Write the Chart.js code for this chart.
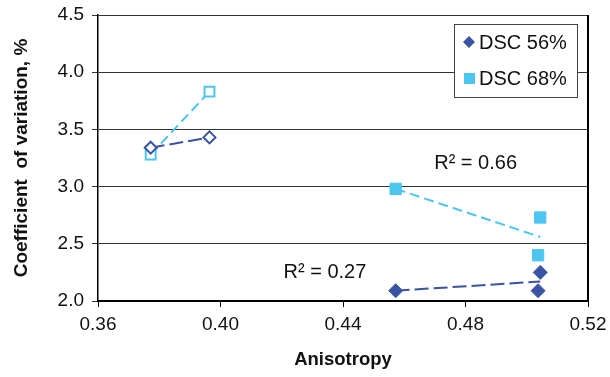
<!DOCTYPE html>
<html>
<head>
<meta charset="utf-8">
<script src="https://cdn.jsdelivr.net/npm/chart.js@4/dist/chart.umd.min.js"></script>
<style>
  html, body { margin: 0; padding: 0; background: #fff; }
  #wrap { width: 610px; height: 377px; }
</style>
</head>
<body>
<div id="wrap"><canvas id="myChart" width="610" height="377"></canvas></div>
<script>
// DSC 56% / 68% samples, filled markers
const aniso56 = [0.4572, 0.5044, 0.5037];
const cv56 = [2.09, 2.25, 2.09];
const aniso68 = [0.4572, 0.5044, 0.5037];
const cv68 = [2.98, 2.73, 2.40];

// open markers (low anisotropy pair)
const anisoOpen = [0.3772, 0.3964];
const cvOpen56 = [3.34, 3.43];
const cvOpen68 = [3.28, 3.83];

// trend line end points
const trendX = [0.4572, 0.5044];
const trend56 = [2.09, 2.17];
const trend68 = [2.98, 2.56];

// R² notes: text, x, y
const r2Text = ['R\u00b2 = 0.66', 'R\u00b2 = 0.27'];
const r2X = [0.4833, 0.4341];
const r2Y = [3.20, 2.25];

const xTicks = [0.36, 0.40, 0.44, 0.48, 0.52];
const yTicks = [2.0, 2.5, 3.0, 3.5, 4.0, 4.5];

const dark = '#3a53a4';
const light = '#4cc5f1';
const FONT = 'Arial, "Liberation Sans", sans-serif';

const pts = function (xs, ys) {
  return xs.map(function (x, i) { return { x: x, y: ys[i] }; });
};

// legend box in the top right corner of the plot
const boxLegend = {
  id: 'boxLegend',
  afterDraw: function (chart) {
    const c = chart.ctx, a = chart.chartArea;
    const w = 123, h = 73;
    const x0 = a.right - 11 - w, y0 = a.top + 9;
    c.save();
    c.fillStyle = '#fff';
    c.fillRect(x0, y0, w, h);
    c.strokeStyle = '#444';
    c.lineWidth = 1;
    c.strokeRect(x0 + 0.5, y0 + 0.5, w, h);
    c.font = '20px ' + FONT;
    c.textBaseline = 'middle';
    const items = [chart.data.datasets[0], chart.data.datasets[1]];
    items.forEach(function (ds, i) {
      const cy = y0 + 18 + i * 36;
      const mx = x0 + 15;
      c.fillStyle = ds.backgroundColor;
      c.beginPath();
      if (ds.pointStyle === 'rectRot') {
        c.moveTo(mx, cy - 6); c.lineTo(mx + 6, cy); c.lineTo(mx, cy + 6); c.lineTo(mx - 6, cy);
        c.closePath();
      } else {
        c.rect(mx - 5, cy - 5, 11, 11);
      }
      c.fill();
      c.fillStyle = '#111';
      c.fillText(ds.label, x0 + 25, cy + 1);
    });
    c.restore();
  }
};

// R² notes and the right-hand border
const notes = {
  id: 'notes',
  afterDatasetsDraw: function (chart) {
    const c = chart.ctx, a = chart.chartArea;
    const sx = chart.scales.x, sy = chart.scales.y;
    c.save();
    c.font = '20px ' + FONT;
    c.fillStyle = '#111';
    c.textAlign = 'center';
    c.textBaseline = 'middle';
    r2Text.forEach(function (t, i) {
      c.fillText(t, sx.getPixelForValue(r2X[i]), sy.getPixelForValue(r2Y[i]));
    });
    c.strokeStyle = '#000';
    c.lineWidth = 2;
    c.beginPath();
    c.moveTo(a.right, a.top);
    c.lineTo(a.right, a.bottom + 1);
    c.stroke();
    c.restore();
  }
};

var ctx = document.getElementById('myChart');
var myChart = new Chart(ctx, {
  type: 'scatter',
  data: {
    datasets: [
      {
        label: 'DSC 56%',
        data: pts(aniso56, cv56),
        pointStyle: 'rectRot',
        pointRadius: 7,
        backgroundColor: dark,
        borderColor: dark,
        borderWidth: 1
      },
      {
        label: 'DSC 68%',
        data: pts(aniso68, cv68),
        pointStyle: 'rect',
        pointRadius: 8,
        backgroundColor: light,
        borderColor: light,
        borderWidth: 1
      },
      {
        label: 'trend 56',
        data: pts(trendX, trend56),
        showLine: true,
        pointRadius: 0,
        borderColor: dark,
        borderWidth: 2,
        borderDash: [14, 5]
      },
      {
        label: 'trend 68',
        data: pts(trendX, trend68),
        showLine: true,
        pointRadius: 0,
        borderColor: light,
        borderWidth: 2,
        borderDash: [10, 5]
      },
      {
        label: 'open 56',
        data: pts(anisoOpen, cvOpen56),
        showLine: true,
        pointStyle: 'rectRot',
        pointRadius: 6,
        backgroundColor: '#fff',
        borderColor: dark,
        pointBorderWidth: 2,
        borderWidth: 2,
        borderDash: [14, 5]
      },
      {
        label: 'open 68',
        data: pts(anisoOpen, cvOpen68),
        showLine: true,
        pointStyle: 'rect',
        pointRadius: 7,
        backgroundColor: '#fff',
        borderColor: light,
        pointBorderWidth: 2,
        borderWidth: 2,
        borderDash: [10, 5]
      }
    ]
  },
  options: {
    responsive: false,
    animation: false,
    devicePixelRatio: 1,
    layout: { padding: { top: 15, right: 22, left: 0, bottom: 0 } },
    plugins: {
      legend: { display: false },
      tooltip: { enabled: false }
    },
    scales: {
      x: {
        type: 'linear',
        min: xTicks[0],
        max: xTicks[xTicks.length - 1],
        afterBuildTicks: function (s) { s.ticks = xTicks.map(function (v) { return { value: v }; }); },
        afterFit: function (s) { s.height = 76; s.paddingLeft = 0; s.paddingRight = 0; },
        ticks: {
          font: { size: 19, family: FONT },
          color: '#111',
          padding: 6,
          maxRotation: 0,
          callback: function (v) { return Number(v).toFixed(2); }
        },
        grid: { drawOnChartArea: false, drawTicks: true, tickLength: 6, color: '#000' },
        border: { color: '#000', width: 2 },
        title: {
          display: true,
          text: 'Anisotropy',
          font: { size: 18.5, weight: 'bold', family: FONT },
          color: '#111',
          padding: { top: 6, bottom: 6 }
        }
      },
      y: {
        min: yTicks[0],
        max: yTicks[yTicks.length - 1],
        afterBuildTicks: function (s) { s.ticks = yTicks.map(function (v) { return { value: v }; }); },
        afterFit: function (s) { s.width = 98; s.paddingTop = 0; s.paddingBottom = 0; },
        ticks: {
          font: { size: 19, family: FONT },
          color: '#111',
          padding: 8,
          callback: function (v) { return Number(v).toFixed(1); }
        },
        grid: { color: '#333', lineWidth: 1, tickLength: 6 },
        border: { color: '#000', width: 1.5 },
        title: {
          display: true,
          text: 'Coefficient  of variation, %',
          font: { size: 19, weight: 'bold', family: FONT },
          color: '#111',
          padding: { top: 10, bottom: 10 }
        }
      }
    }
  },
  plugins: [notes, boxLegend]
});
</script>
</body>
</html>
